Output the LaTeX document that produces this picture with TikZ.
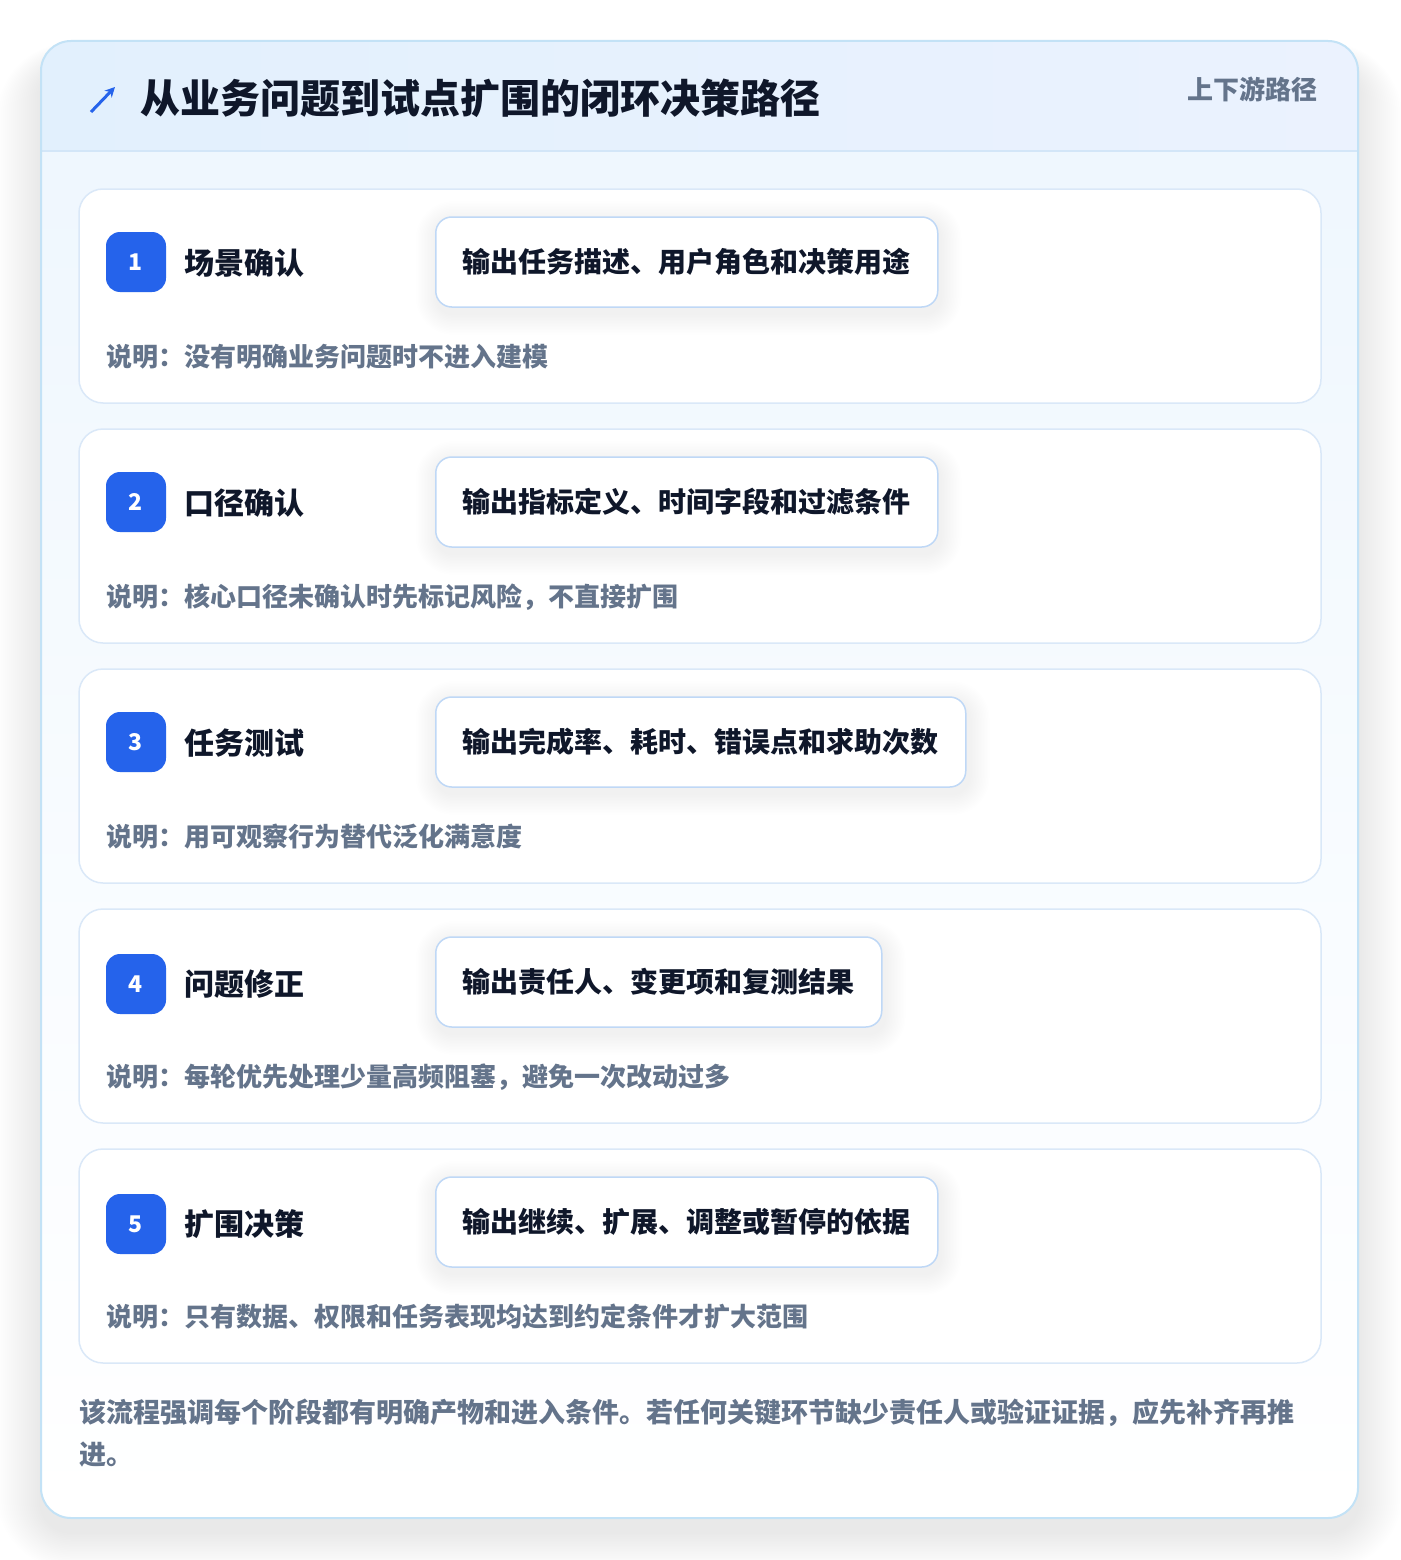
\documentclass[tikz,border=0pt]{standalone}
\usepackage{fontspec}
\setmainfont{Noto Sans CJK SC}
\usetikzlibrary{arrows.meta}
\definecolor{accent}{HTML}{2563EB}
\definecolor{ink}{HTML}{0F172A}
\definecolor{muted}{HTML}{64748B}
\definecolor{outerline}{HTML}{C3E2F6}
\definecolor{cardline}{HTML}{DAE8F8}
\definecolor{boxline}{HTML}{BFD8F6}
\definecolor{headL}{HTML}{E2F0FD}
\definecolor{headR}{HTML}{EBF2FE}
\definecolor{headline}{HTML}{D3E6F8}
\definecolor{bodytop}{HTML}{EFF7FE}
\pgfdeclarelayer{back}
\pgfdeclarelayer{shade}
\pgfsetlayers{back,shade,main}
\newcommand\boxshadow[1]{%
  \foreach \s in {1,...,14}{%
    \fill[black,opacity=0.0035,rounded corners=16+\s*1.5]
      ([xshift=-\s*1.5pt+2pt,yshift=\s*1.5pt-6pt]#1.north west) rectangle
      ([xshift=\s*1.5pt+2pt,yshift=-\s*1.5pt-6pt]#1.south east);}}
\begin{document}
\begin{tikzpicture}[x=1pt,y=-1pt,
  stepcard/.style={draw=cardline,line width=1.5pt,fill=white,rounded corners=24,
    minimum width=1242,minimum height=214,inner sep=0pt},
  badge/.style={fill=accent,rounded corners=14,minimum width=60,minimum height=60,
    inner sep=0pt,text=white,font=\fontsize{23}{26}\selectfont\bfseries},
  steptitle/.style={anchor=west,inner sep=0pt,text=ink,
    font=\fontsize{30}{36}\selectfont\bfseries},
  outbox/.style={anchor=west,draw=boxline,line width=1.5pt,fill=white,rounded corners=16,
    minimum height=90,inner xsep=27pt,inner ysep=0pt,text=ink,
    font=\fontsize{28}{34}\selectfont\bfseries},
  note/.style={anchor=west,inner sep=0pt,text=muted,
    font=\fontsize{26}{32}\selectfont\bfseries},
]
\useasboundingbox (0,0) rectangle (1400,1560);
\begin{pgfonlayer}{back}
\fill[white] (0,0) rectangle (1400,1560);
% soft shadow of the main card
\foreach \i in {1,...,22}{%
  \fill[black,opacity=0.0048,rounded corners=30+\i*2]
    (41-\i*2,41+24-\i*1) rectangle (1358+\i*2,1518+14+\i*1.7);}
\fill[white,rounded corners=30] (41,41) rectangle (1358,1518);
\begin{scope}
  \clip[rounded corners=30] (41,41) rectangle (1358,1518);
  \shade[top color=bodytop,bottom color=white,middle color=white!55!bodytop]
    (41,151) rectangle (1358,1518);
  \shade[left color=headL,right color=headR] (41,41) rectangle (1358,151);
\end{scope}
\coordinate (hl) at (41,151);
\coordinate (hr) at (1358,151);
\draw[headline,line width=1.5pt] (hl) -- (hr);
\draw[outerline,line width=2pt,rounded corners=30] (41,41) rectangle (1358,1518);
% step cards
\foreach \k in {1,...,5}{%
  \node[stepcard] (card\k) at (700,296+240*\k-240) {};}
\end{pgfonlayer}

% header
\coordinate (arrA) at (91,112);
\coordinate (arrB) at (115,87);
\draw[accent,line width=3pt,-{Stealth[length=10pt,width=10pt]}] (arrA) -- (arrB);
\node[anchor=west,inner sep=0pt,text=ink,font=\fontsize{40}{48}\selectfont\bfseries]
  (title) at (140,98) {从业务问题到试点扩围的闭环决策路径};
\node[anchor=east,inner sep=0pt,text=muted,font=\fontsize{26}{32}\selectfont\bfseries]
  (tag) at (1318,89) {上下游路径};

% step 1
\node[badge] (b1) at (136,262) {1};
\node[steptitle] (t1) at (184,263) {场景确认};
\node[outbox] (o1) at (435,262) {输出任务描述、用户角色和决策用途};
\node[note] (n1) at (106,357) {说明：没有明确业务问题时不进入建模};
% step 2
\node[badge] (b2) at (136,502) {2};
\node[steptitle] (t2) at (184,503) {口径确认};
\node[outbox] (o2) at (435,502) {输出指标定义、时间字段和过滤条件};
\node[note] (n2) at (106,597) {说明：核心口径未确认时先标记风险，不直接扩围};
% step 3
\node[badge] (b3) at (136,742) {3};
\node[steptitle] (t3) at (184,743) {任务测试};
\node[outbox] (o3) at (435,742) {输出完成率、耗时、错误点和求助次数};
\node[note] (n3) at (106,837) {说明：用可观察行为替代泛化满意度};
% step 4
\node[badge] (b4) at (136,984) {4};
\node[steptitle] (t4) at (184,984) {问题修正};
\node[outbox] (o4) at (435,982) {输出责任人、变更项和复测结果};
\node[note] (n4) at (106,1077) {说明：每轮优先处理少量高频阻塞，避免一次改动过多};
% step 5
\node[badge] (b5) at (136,1224) {5};
\node[steptitle] (t5) at (184,1224) {扩围决策};
\node[outbox] (o5) at (435,1222) {输出继续、扩展、调整或暂停的依据};
\node[note] (n5) at (106,1317) {说明：只有数据、权限和任务表现均达到约定条件才扩大范围};

\begin{pgfonlayer}{shade}
\foreach \k in {1,...,5}{\boxshadow{o\k}}
\end{pgfonlayer}

% footer
\node[anchor=north west,inner sep=0pt,text=muted,align=left,
  font=\fontsize{27}{42}\selectfont\bfseries] (foot) at (79,1399)
  {该流程强调每个阶段都有明确产物和进入条件。若任何关键环节缺少责任人或验证证据，应先补齐再推\\进。};
\end{tikzpicture}
\end{document}
